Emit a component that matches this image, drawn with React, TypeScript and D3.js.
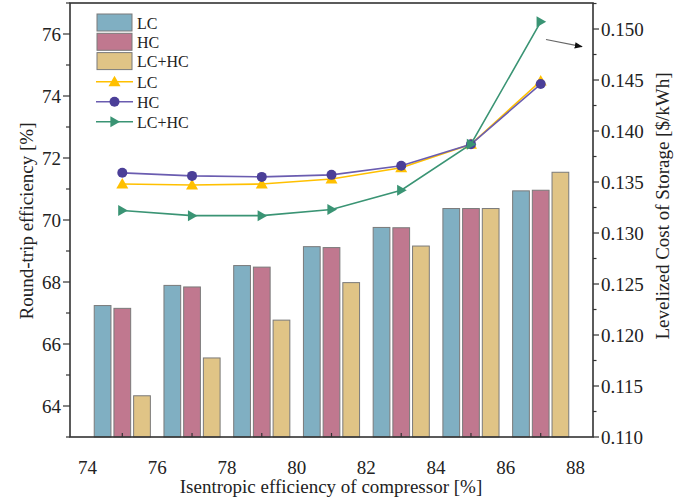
import React from "react";
import * as d3 from "d3";

const xValues = [75, 77, 79, 81, 83, 85, 87];
const rteLC = [67.24, 67.89, 68.53, 69.14, 69.76, 70.37, 70.94];
const rteHC = [67.15, 67.84, 68.48, 69.11, 69.75, 70.37, 70.96];
const rteLCHC = [64.33, 65.55, 66.77, 67.98, 69.16, 70.37, 71.54];

const lcosLC = [0.1348, 0.1347, 0.1348, 0.1353, 0.1364, 0.1387, 0.1449];
const lcosHC = [0.1359, 0.1356, 0.1355, 0.1357, 0.1366, 0.1387, 0.1446];
const lcosLCHC = [0.1322, 0.1317, 0.1317, 0.1323, 0.1342, 0.1387, 0.1507];

const xTicks = [74, 76, 78, 80, 82, 84, 86, 88];
const leftTicks = [64, 66, 68, 70, 72, 74, 76];
const rightTicks = [0.11, 0.115, 0.12, 0.125, 0.13, 0.135, 0.14, 0.145, 0.15];

const seriesNames = ["LC", "HC", "LC+HC"];
const barColors = ["#80AFC2", "#C0788F", "#E0C486"];
const lineColors = ["#FFC000", "#6A5CB0", "#3A9474"];
const markerColors = ["#FFC000", "#4B3F98", "#3A9474"];

const W = 693, H = 498;
const L = 70, R = 593, T = 3, B = 437;
const FONT = "'Liberation Serif', 'Times New Roman', serif";
const FS = 19;

export default function App() {
  const x = d3.scaleLinear().domain([73.5, 88.5]).range([L, R]);
  const yL = d3.scaleLinear().domain([63, 77]).range([B, T]);
  const yR = d3.scaleLinear().domain([0.11, 0.15255]).range([B, T]);
  const unit = x(1) - x(0);
  const barW = 0.48 * unit;
  const offsets = [-0.565, 0, 0.565];
  const barData = [rteLC, rteHC, rteLCHC];
  const lineData = [lcosLC, lcosHC, lcosLCHC];
  const line = d3.line<[number, number]>().x(d => x(d[0])).y(d => yR(d[1]));

  const marker = (i: number, cx: number, cy: number, key: string) => {
    const c = markerColors[i];
    if (i === 0) {
      const s = 6;
      return <path key={key} d={`M${cx},${cy - s} L${cx + s},${cy + s * 0.75} L${cx - s},${cy + s * 0.75}Z`} fill={c} />;
    }
    if (i === 1) return <circle key={key} cx={cx} cy={cy} r={5} fill={c} />;
    const s = 5.5;
    return <path key={key} d={`M${cx + s},${cy} L${cx - s * 0.75},${cy - s} L${cx - s * 0.75},${cy + s}Z`} fill={c} />;
  };

  const minorLeft = d3.range(63, 77.01, 1).filter(v => !leftTicks.includes(v));
  const minorRight = d3.range(0.1125, 0.1526, 0.005);
  const minorX = d3.range(75, 88, 2);

  return (
    <svg width={W} height={H} style={{ position: "absolute", left: 0, top: 0, background: "#fff" }} fontFamily={FONT}>
      <rect x={0} y={0} width={W} height={H} fill="#fff" />
      {barData.map((arr, si) =>
        arr.map((v, i) => (
          <rect key={`b${si}-${i}`} x={x(xValues[i] + offsets[si]) - barW / 2} y={yL(v)} width={barW} height={B - yL(v)}
            fill={barColors[si]} stroke="#7a7a7a" strokeWidth={1} />
        ))
      )}
      {lineData.map((arr, si) => (
        <g key={`l${si}`}>
          <path d={line(arr.map((v, i) => [xValues[i], v]) as [number, number][]) || ""} fill="none" stroke={lineColors[si]} strokeWidth={1.6} />
          {arr.map((v, i) => marker(si, x(xValues[i]), yR(v), `m${si}-${i}`))}
        </g>
      ))}
      <rect x={L} y={T} width={R - L} height={B - T} fill="none" stroke="#333" strokeWidth={1.6} />
      {minorX.map(v => <line key={`xt${v}`} x1={x(v)} x2={x(v)} y1={B} y2={B - 4} stroke="#333" strokeWidth={1.2} />)}
      {xTicks.map(v => (
        <text key={`xl${v}`} x={x(v)} y={474} textAnchor="middle" fontSize={FS} fill="#222">{v}</text>
      ))}
      {leftTicks.map(v => (
        <g key={`lt${v}`}>
          <line x1={L - 7} x2={L} y1={yL(v)} y2={yL(v)} stroke="#333" strokeWidth={1.2} />
          <text x={61} y={yL(v) + 6.5} textAnchor="end" fontSize={FS} fill="#222">{v}</text>
        </g>
      ))}
      {minorLeft.map(v => <line key={`lm${v}`} x1={L - 4} x2={L} y1={yL(v)} y2={yL(v)} stroke="#333" strokeWidth={1.2} />)}
      {rightTicks.map(v => (
        <g key={`rt${v}`}>
          <line x1={R} x2={R + 6} y1={yR(v)} y2={yR(v)} stroke="#333" strokeWidth={1.2} />
          <text x={601} y={yR(v) + 6.5} textAnchor="start" fontSize={FS} fill="#222">{v.toFixed(3)}</text>
        </g>
      ))}
      {minorRight.map(v => <line key={`rm${v}`} x1={R} x2={R + 3.5} y1={yR(v)} y2={yR(v)} stroke="#333" strokeWidth={1.2} />)}
      <text x={331} y={493} textAnchor="middle" fontSize={FS} fill="#222">Isentropic efficiency of compressor [%]</text>
      <text transform={`translate(33,221) rotate(-90)`} textAnchor="middle" fontSize={FS} fill="#222">Round-trip efficiency [%]</text>
      <text transform={`translate(669,206) rotate(-90)`} textAnchor="middle" fontSize={FS} fill="#222">Levelized Cost of Storage [$/kWh]</text>
      <defs>
        <marker id="arrowhead" viewBox="0 0 10 10" refX="9" refY="5" markerWidth="8" markerHeight="8" orient="auto" markerUnits="userSpaceOnUse">
          <path d="M0,1 L10,5 L0,9 Z" fill="#111" />
        </marker>
      </defs>
      <line x1={546} y1={39.5} x2={582} y2={46.7} stroke="#666" strokeWidth={1.2} markerEnd="url(#arrowhead)" />
      {seriesNames.map((n, i) => (
        <g key={`lgb${i}`}>
          <rect x={97} y={14 + i * 19.3} width={35} height={17} fill={barColors[i]} stroke="#7a7a7a" strokeWidth={1} />
          <text x={137} y={28.5 + i * 19.3} fontSize={16} fill="#222">{n}</text>
        </g>
      ))}
      {seriesNames.map((n, i) => (
        <g key={`lgl${i}`}>
          <line x1={96} x2={133} y1={81.7 + i * 20} y2={81.7 + i * 20} stroke={lineColors[i]} strokeWidth={1.6} />
          {marker(i, 114.5, 81.7 + i * 20, `lgm${i}`)}
          <text x={137} y={87.5 + i * 20} fontSize={16} fill="#222">{n}</text>
        </g>
      ))}
    </svg>
  );
}
